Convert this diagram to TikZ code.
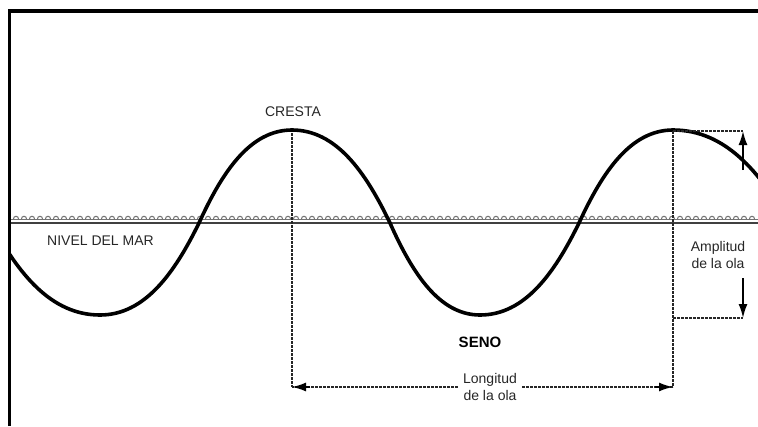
\documentclass[tikz,border=0pt]{standalone}
\usepackage{fontspec}
\setmainfont{Liberation Sans}
\usetikzlibrary{arrows.meta}
\begin{document}
\begin{tikzpicture}[x=1pt,y=-1pt,
  wave/.style={line width=3.6pt, line cap=round},
  dsh/.style={line width=1.3pt, dash pattern=on 2.6pt off 1.4pt, black!85},
  tip/.style={-{Latex[length=14pt,width=9pt]}},
  solidarrow/.style={line width=1.7pt, solid, black, tip},
  lbl/.style={font=\fontsize{14}{17}\selectfont, text=black!85, inner sep=0pt, align=center}]
\useasboundingbox (0,0) rectangle (758,426);
\begin{scope}
\clip (10,0) rectangle (758,426);
% sea level
\draw[line width=1.9pt, black!75] (11,223) -- (758,223);
\draw[line width=1pt, black!55] (11,219.5) -- (758,219.5);
\foreach \x in {16,24,...,756}
  \draw[line width=1pt, black!55] (\x-2.7,219.5) .. controls (\x-2.7,215.2) and (\x+2.7,215.2) .. (\x+2.7,219.5);
% wave
\draw[wave] (-9,223) .. controls (18.25,273.6) and (50.95,315) .. (100,315)
  .. controls (144.55,315) and (174.25,273.6) .. (199,223)
  .. controls (222.25,171.85) and (250.15,130) .. (292,130)
  .. controls (336.1,130) and (365.5,171.85) .. (390,223)
  .. controls (412.5,273.6) and (439.5,315) .. (480,315)
  .. controls (524.55,315) and (554.25,273.6) .. (579,223)
  .. controls (602.5,171.85) and (630.7,130) .. (673,130)
  .. controls (725.2,130) and (760,171.85) .. (789,223);
\end{scope}
% frame
\draw[line width=3.4pt, line join=miter] (9.2,426) -- (9.2,10.8) -- (760,10.8);
% labels
\node[lbl] (cresta) at (293,112) {CRESTA};
\node[lbl, anchor=west] (nivel) at (47,241) {NIVEL DEL MAR};
\node[font=\bfseries\fontsize{15}{18}\selectfont, inner sep=0pt] (seno) at (480,342) {SENO};
\node[lbl, inner xsep=5pt] (longitud) at (490,387) {Longitud\\de la ola};
\node[lbl] (amp) at (718,254.5) {Amplitud\\de la ola};
% wavelength
\coordinate (c1) at (292,133);
\coordinate (c1b) at (292,387);
\coordinate (c2) at (673,131);
\coordinate (c2b) at (673,387);
\draw[dsh] (c1) -- (c1b);
\draw[dsh] (c2) -- (c2b);
\draw[dsh] (longitud.west) -- (c1b);
\draw[dsh] (longitud.east) -- (c2b);
\draw[solidarrow] (c1b) ++(18,0) -- (c1b);
\draw[solidarrow] (c2b) ++(-18,0) -- (c2b);
% amplitude
\coordinate (at) at (743,131);
\coordinate (ab) at (743,318);
\coordinate (as) at (743,170);
\coordinate (as2) at (743,278);
\coordinate (c2m) at (673,318);
\draw[dsh] (c2) -- (at);
\draw[dsh] (c2m) -- (ab);
\draw[solidarrow] (as) -- (at);
\draw[solidarrow] (as2) -- (ab);
\end{tikzpicture}
\end{document}
